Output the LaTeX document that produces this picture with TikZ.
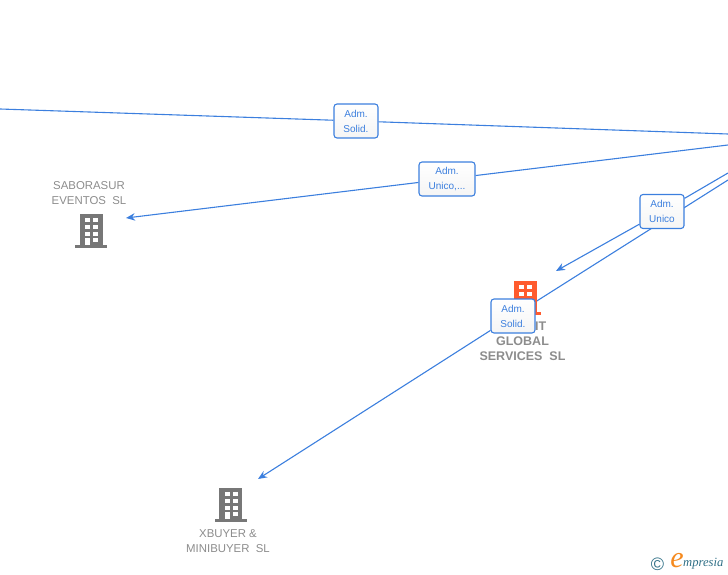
\documentclass[tikz,border=0pt]{standalone}
\usepackage{fontspec}
\setmainfont{Liberation Sans}
\newfontfamily\logofont{Liberation Serif}
\usetikzlibrary{arrows.meta,backgrounds}
\definecolor{linkblue}{HTML}{3C7FDE}
\definecolor{namegray}{HTML}{8C8C8C}
\definecolor{iconorange}{HTML}{FF5B2E}
\definecolor{icongray}{HTML}{777777}
\definecolor{logoteal}{HTML}{2F6F86}
\definecolor{logoorange}{HTML}{F58A1F}
\tikzset{
  link/.style={draw=linkblue,line width=1.1pt},
  linkarrow/.style={link,-{Stealth[length=9pt,width=7.5pt]}},
  rolebox/.style={draw=linkblue,line width=1.1pt,rounded corners=3pt,top color=white,bottom color=black!4,
    text=linkblue,font=\fontsize{10}{15}\selectfont,align=center,minimum height=34pt,inner sep=0pt},
  firmname/.style={text=namegray,font=\fontsize{11.4}{14.8}\selectfont,align=center,inner sep=0pt},
  boldname/.style={firmname,font=\fontsize{12.5}{14.8}\selectfont\bfseries},
  pics/building/.style={code={
    \fill[#1] (-11.5,0) rectangle (11.5,31);
    \fill[#1] (-16,31) rectangle (16,34);
    \foreach \yy in {4,11,18} {
      \fill[white] (-6,\yy) rectangle (-1,\yy+4);
      \fill[white] (2,\yy) rectangle (7,\yy+4);
    }
    \fill[white] (-6,24) rectangle (-1,31);
    \fill[white] (2,24) rectangle (7,28);
  }}
}
\begin{document}
\begin{tikzpicture}[x=1pt,y=-1pt]
%
\useasboundingbox (0,0) rectangle (728,575);
%
\coordinate (a0) at (0,109);
\coordinate (a1) at (728,134);
\coordinate (b0) at (728,145);
\coordinate (b1) at (126,218);
\coordinate (c0) at (728,173);
\coordinate (c1) at (556,271);
\coordinate (d0) at (728,180);
\coordinate (d1) at (258,479);
%
\pic at (91,214) {building=icongray};
\pic at (525,281) {building=iconorange};
\pic at (230.5,488) {building=icongray};
%
\node[firmname] (saborasur) at (89,193) {SABORASUR\\EVENTOS\ \ SL};
\node[boldname] (global) at (522.5,348.5) {GLOBAL\\SERVICES\ \ SL};
\node[boldname,anchor=west] (globalit) at (535,326) {IT};
\node[firmname] (xbuyer) at (228,541) {XBUYER \&\\MINIBUYER\ \ SL};
%
\node[rolebox,minimum width=44pt] (la) at (356,121) {Adm.\\Solid.};
\node[rolebox,minimum width=56pt] (lb) at (447,179) {Adm.\\Unico,...};
\node[rolebox,minimum width=44pt] (lc) at (662,211.5) {Adm.\\Unico};
\node[rolebox,minimum width=44pt] (ld) at (513,316) {Adm.\\Solid.};
%
\begin{scope}[on background layer]
\draw[link] (a0) -- (la);
\draw[link] (la) -- (a1);
\draw[link] (b0) -- (lb);
\draw[linkarrow] (lb) -- (b1);
\draw[link] (c0) -- (lc);
\draw[linkarrow] (lc) -- (c1);
\draw[link] (d0) -- (ld);
\draw[linkarrow] (ld) -- (d1);
\end{scope}
%
\node[text=logoteal,font=\fontsize{18}{18}\selectfont,inner sep=0pt] (logoc) at (657.5,564) {©};
\node[text=logoorange,font=\fontsize{30}{30}\logofont\itshape,inner sep=0pt] (logoe) at (677,561) {e};
\node[text=logoteal,font=\fontsize{12.6}{12.6}\logofont\itshape,inner sep=0pt,anchor=west] (logoname) at (683,563.5) {mpresia};
%
\end{tikzpicture}
\end{document}
